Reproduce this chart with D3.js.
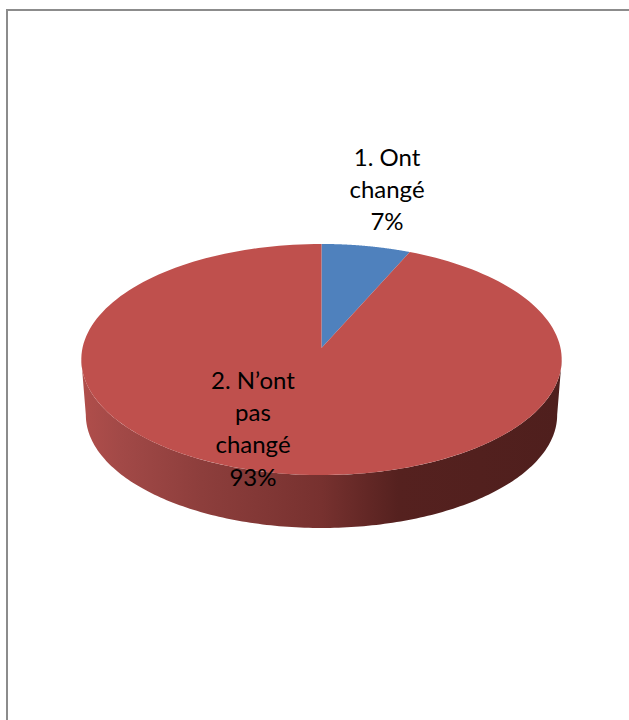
<!DOCTYPE html>
<html>
<head>
<meta charset="utf-8">
<script src="https://cdn.jsdelivr.net/npm/d3@7"></script>
<style>
html,body{margin:0;padding:0;background:#fff}
svg{display:block}
text{font-family:Lato,"Open Sans","Noto Sans",sans-serif;fill:#000}
</style>
</head>
<body>
<svg id="chart" width="629" height="720"></svg>
<script>
const categories = ["1. Ont changé", "2. N’ont pas changé"];
const values = [6.6, 93.4];
const sliceColors = ["#4f81bd", "#bf504d"];
const labelLines = [["1. Ont", "changé", "7%"], ["2. N’ont", "pas", "changé", "93%"]];
const labelAnchors = [[387, 166], [253, 389]];
const sideStops = [
  [0.00, "#b04e4b"], [0.08, "#a24947"], [0.25, "#8d3e3c"], [0.50, "#77312f"],
  [0.66, "#55211f"], [1.00, "#4f1f1d"]
];

const svg = d3.select("#chart");
svg.append("rect").attr("x", 7).attr("y", 10).attr("width", 640).attr("height", 760)
  .attr("fill", "#fff").attr("stroke", "#8c8c8c").attr("stroke-width", 2);

const apex = {x: 321.5, y: 348};
const k = 0.0996;
const topRim = {a: 239, b: 114.4, dy: 0};
const lowRim = {a: 234.5, b: 112, dy: 55.6};
const project = (t, r) => {
  const w = 1 + k * Math.cos(t);
  return [apex.x + r.a * Math.sin(t) / w, apex.y + r.dy - r.b * Math.cos(t) / w];
};

const pie = d3.pie().sort(null)(values);
const arcPts = (a0, a1, r) => d3.range(0, 181).map(i => project(a0 + (a1 - a0) * i / 180, r));
const line = d3.line();

const grad = svg.append("defs").append("linearGradient").attr("id", "side")
  .attr("gradientUnits", "userSpaceOnUse").attr("x1", 82).attr("x2", 561).attr("y1", 0).attr("y2", 0);
grad.selectAll("stop").data(sideStops).join("stop")
  .attr("offset", d => d[0]).attr("stop-color", d => d[1]);

// visible side wall: front half of the rim, right extreme to left extreme
const frontA = Math.acos(-k), frontB = 2 * Math.PI - Math.acos(-k);
const upper = arcPts(frontA, frontB, topRim);
const lower = arcPts(frontB, frontA, lowRim);
svg.append("path").attr("d", line(upper.concat(lower)) + "Z").attr("fill", "url(#side)");

// top face
svg.selectAll("path.slice").data(pie).join("path").attr("class", "slice")
  .attr("d", d => line([[apex.x, apex.y], ...arcPts(d.startAngle, d.endAngle, topRim)]) + "Z")
  .attr("fill", (d, i) => sliceColors[i]);

// labels
labelLines.forEach((lines, i) => {
  svg.append("text").attr("aria-label", categories[i])
    .attr("text-anchor", "middle").attr("font-size", 24)
    .selectAll("tspan").data(lines).join("tspan")
    .attr("x", labelAnchors[i][0])
    .attr("y", (d, j) => labelAnchors[i][1] + j * 32.2)
    .text(d => d);
});
</script>
</body>
</html>
